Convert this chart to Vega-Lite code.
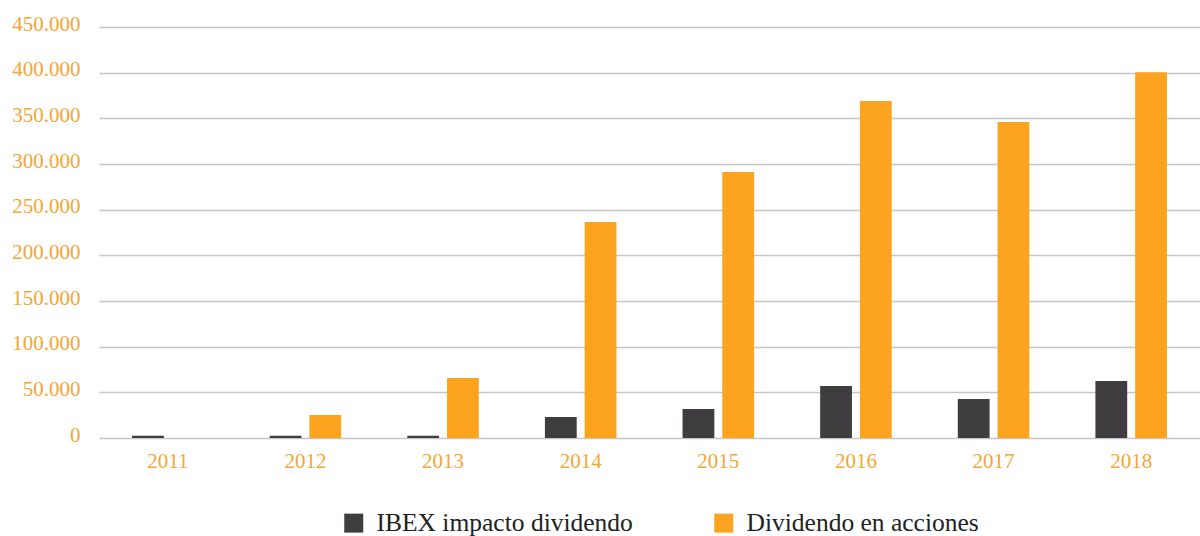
{
  "$schema": "https://vega.github.io/schema/vega-lite/v6.json",
  "width": 1101,
  "height": 411,
  "autosize": {"type": "none"},
  "padding": {"left": 99, "top": 27, "right": 0, "bottom": 98},
  "background": "white",
  "config": {"view": {"stroke": null}, "font": "Liberation Serif"},
  "data": {
    "values": [
      {"year": "2011", "serie": "IBEX impacto dividendo", "value": 2500},
      {"year": "2011", "serie": "Dividendo en acciones", "value": 0},
      {"year": "2012", "serie": "IBEX impacto dividendo", "value": 2500},
      {"year": "2012", "serie": "Dividendo en acciones", "value": 25200},
      {"year": "2013", "serie": "IBEX impacto dividendo", "value": 2500},
      {"year": "2013", "serie": "Dividendo en acciones", "value": 65700},
      {"year": "2014", "serie": "IBEX impacto dividendo", "value": 23000},
      {"year": "2014", "serie": "Dividendo en acciones", "value": 236500},
      {"year": "2015", "serie": "IBEX impacto dividendo", "value": 31700},
      {"year": "2015", "serie": "Dividendo en acciones", "value": 291200},
      {"year": "2016", "serie": "IBEX impacto dividendo", "value": 56900},
      {"year": "2016", "serie": "Dividendo en acciones", "value": 369000},
      {"year": "2017", "serie": "IBEX impacto dividendo", "value": 42700},
      {"year": "2017", "serie": "Dividendo en acciones", "value": 346000},
      {"year": "2018", "serie": "IBEX impacto dividendo", "value": 62400},
      {"year": "2018", "serie": "Dividendo en acciones", "value": 400500}
    ]
  },
  "mark": {"type": "bar"},
  "encoding": {
    "x": {
      "field": "year",
      "type": "nominal",
      "scale": {"paddingInner": 0.48, "paddingOuter": 0.24},
      "axis": {
        "title": null,
        "labelAngle": 0,
        "domain": false,
        "ticks": false,
        "labelColor": "#f6a532",
        "labelFontSize": 21,
        "labelPadding": 12,
        "labelFont": "Liberation Serif"
      }
    },
    "xOffset": {
      "field": "serie",
      "type": "nominal",
      "scale": {"domain": ["IBEX impacto dividendo", "Dividendo en acciones"], "paddingInner": 0.2}
    },
    "y": {
      "field": "value",
      "type": "quantitative",
      "scale": {"domain": [0, 450000], "nice": false},
      "axis": {
        "title": null,
        "values": [0, 50000, 100000, 150000, 200000, 250000, 300000, 350000, 400000, 450000],
        "labelExpr": "replace(format(datum.value, ','), ',', '.')",
        "domain": false,
        "ticks": false,
        "gridColor": "#c6c6c6",
        "gridWidth": 1.5,
        "labelColor": "#f6a532",
        "labelFontSize": 21,
        "labelPadding": 19,
        "labelOffset": -3,
        "labelFont": "Liberation Serif"
      }
    },
    "color": {
      "field": "serie",
      "type": "nominal",
      "scale": {"domain": ["IBEX impacto dividendo", "Dividendo en acciones"], "range": ["#3f3d40", "#fca420"]},
      "legend": {
        "title": null,
        "orient": "none",
        "legendX": 242,
        "legendY": 483,
        "direction": "horizontal",
        "symbolType": "square",
        "symbolSize": 361,
        "symbolStrokeWidth": 0,
        "labelFontSize": 25.5,
        "labelFont": "Liberation Serif",
        "labelColor": "#222222",
        "labelOffset": 10,
        "columnPadding": 78,
        "labelLimit": 400
      }
    }
  }
}
